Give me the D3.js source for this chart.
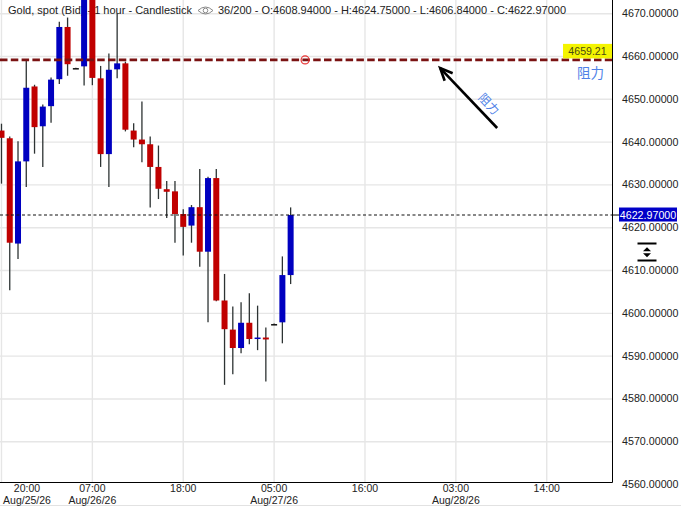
<!DOCTYPE html>
<html><head><meta charset="utf-8">
<script src="https://cdn.jsdelivr.net/npm/d3@7"></script>
<style>
html,body{margin:0;padding:0;background:#fff;}
svg{display:block;}
</style></head>
<body>
<svg id="chart" width="681" height="507"></svg>
<script>
// ---------- data ----------
const startTime = "2026-08-25T20:00:00Z"; // first candle, hourly bars
const opens  = [4642.7,4640.9,4616.3,4635.5,4653.0,4643.7,4648.4,4654.7,4666.9,4657.3,4657.7,4674.0,4654.9,4637.2,4657.0,4658.4,4642.7,4640.6,4639.5,4634.2,4629.0,4628.5,4623.2,4620.5,4624.8,4614.4,4631.6,4603.0,4596.2,4591.9,4597.8,4594.2,4594.35,4597.5,4597.9,4608.94];
const highs  = [4644.3,4641.3,4640.2,4659.2,4653.4,4648.8,4655.1,4668.1,4669.1,4657.4,4676.0,4675.5,4657.8,4660.7,4670.1,4658.8,4644.4,4649.5,4641.3,4639.2,4630.9,4630.9,4624.3,4625.3,4633.7,4631.9,4633.7,4609.2,4601.6,4602.6,4604.7,4601.8,4596.7,4597.6,4613.3,4624.75];
const lows   = [4630.3,4605.4,4612.7,4629.5,4637.3,4634.2,4644.5,4653.6,4655.5,4657.2,4653.2,4653.3,4634.2,4629.5,4654.9,4642.5,4638.8,4635.3,4624.7,4626.7,4622.3,4616.5,4613.5,4616.5,4610.9,4597.9,4602.8,4583.3,4585.8,4590.7,4592.8,4591.4,4584.1,4597.4,4593.0,4606.84];
const closes = [4641.0,4616.5,4635.5,4652.7,4643.5,4648.3,4654.6,4666.9,4658.2,4657.3,4674.5,4655.0,4637.2,4656.9,4658.4,4642.9,4640.6,4639.5,4634.2,4629.1,4628.4,4623.2,4620.2,4624.8,4614.4,4631.6,4603.0,4596.3,4591.9,4597.8,4594.0,4594.35,4593.9,4597.5,4608.94,4622.97];

const yTickValues = [4560,4570,4580,4590,4600,4610,4620,4630,4640,4650,4660,4670];
const xTickTimes = ["2026-08-25T20:00:00Z","2026-08-26T07:00:00Z","2026-08-26T18:00:00Z","2026-08-27T05:00:00Z","2026-08-27T16:00:00Z","2026-08-28T03:00:00Z","2026-08-28T14:00:00Z"];
const xTickDates = ["Aug/25/26","Aug/26/26","","Aug/27/26","","Aug/28/26",""];

const titleText = "Gold, spot (Bid) - 1 hour - Candlestick";
const infoText = "36/200 - O:4608.94000 - H:4624.75000 - L:4606.84000 - C:4622.97000";
const lastPrice = 4622.97;
const resistancePrice = 4659.21;
const resistanceLabel = "阻力";
// annotation anchors in data terms (hours after first candle, price)
const circleAt = {h: 36.75, p: 4659.21};
const arrowFrom = {h: 60.0, p: 4643.3};
const arrowTo = {h: 53.1, p: 4657.3};
const rotLabelAt = {h: 59.0, p: 4648.9};

// ---------- layout ----------
const plotR = 612, plotB = 482;
const svg = d3.select("#chart");
const HOUR = 3600e3;
const t0 = new Date(startTime).getTime();
const times = opens.map((_, i) => new Date(t0 + i * HOUR));
const x = d3.scaleUtc().domain([new Date(t0 - 0.18 * HOUR), new Date(t0 + 73.9 * HOUR)]).range([0, plotR]);
const y = d3.scaleLinear().domain([4560.6, 4673.2]).range([plotB, 0]);
const xh = h => x(new Date(t0 + h * HOUR));

const red = "#c00000", blue = "#0000c0", wickCol = "#2d3333";
const fontMain = "'Liberation Sans', Arial, Helvetica, sans-serif";

svg.append("defs").append("clipPath").attr("id", "plotClip")
  .append("rect").attr("x", 0).attr("y", 0).attr("width", plotR).attr("height", plotB);

// grid
const grid = svg.append("g").attr("clip-path", "url(#plotClip)");
grid.selectAll("line.h").data(yTickValues).join("line")
  .attr("x1", 0).attr("x2", plotR).attr("y1", d => y(d)).attr("y2", d => y(d))
  .attr("stroke", "#e6e6e6").attr("stroke-width", 1.4);
grid.selectAll("line.v").data(xTickTimes).join("line")
  .attr("x1", d => x(new Date(d))).attr("x2", d => x(new Date(d)))
  .attr("y1", 0).attr("y2", plotB)
  .attr("stroke", "#e6e6e6").attr("stroke-width", 1.4);

// header text (under candles)
svg.append("text").attr("x", 8).attr("y", 14).attr("font-family", fontMain).attr("font-size", 11)
  .attr("fill", "#222").text(titleText);
// eye icon
const eye = svg.append("g").attr("transform", "translate(205.5,10.5)");
eye.append("path").attr("d", "M-7.5,0 Q0,-7 7.5,0 Q0,7 -7.5,0 Z").attr("fill", "none").attr("stroke", "#8a8a8a").attr("stroke-width", 1);
eye.append("circle").attr("r", 2.3).attr("fill", "none").attr("stroke", "#8a8a8a").attr("stroke-width", 1);
svg.append("text").attr("x", 218).attr("y", 14).attr("font-family", fontMain).attr("font-size", 11)
  .attr("fill", "#222").text(infoText);

// candles
const candles = svg.append("g").attr("clip-path", "url(#plotClip)");
const idx = d3.range(opens.length);
const colorOf = i => closes[i] > opens[i] ? blue : (closes[i] < opens[i] ? red : "#111");
candles.selectAll("line.wick").data(idx).join("line")
  .attr("x1", i => x(times[i])).attr("x2", i => x(times[i]))
  .attr("y1", i => y(highs[i])).attr("y2", i => y(lows[i]))
  .attr("stroke", wickCol).attr("stroke-width", 1.3);
candles.selectAll("rect.body").data(idx).join("rect")
  .attr("x", i => x(times[i]) - 3).attr("width", 6)
  .attr("y", i => Math.min(y(opens[i]), y(closes[i])))
  .attr("height", i => Math.max(1.5, Math.abs(y(opens[i]) - y(closes[i]))))
  .attr("fill", colorOf);

// last price dotted line
svg.append("line").attr("x1", 0).attr("x2", plotR).attr("y1", y(lastPrice)).attr("y2", y(lastPrice))
  .attr("stroke", "#111").attr("stroke-width", 1.2).attr("stroke-dasharray", "3,2.5");

// resistance line
svg.append("line").attr("x1", 0).attr("x2", plotR).attr("y1", y(resistancePrice)).attr("y2", y(resistancePrice))
  .attr("stroke", "#7a1212").attr("stroke-width", 2.6).attr("stroke-dasharray", "7.5,3.3");
svg.append("circle").attr("cx", xh(circleAt.h)).attr("cy", y(circleAt.p)).attr("r", 4)
  .attr("fill", "none").attr("stroke", "#e83030").attr("stroke-width", 1.2);

// resistance price tag
const ry = y(resistancePrice);
svg.append("rect").attr("x", 563).attr("y", ry - 16).attr("width", 49).attr("height", 14.5).attr("fill", "#f4f400");
svg.append("text").attr("x", 587.5).attr("y", ry - 5.2).attr("text-anchor", "middle")
  .attr("font-family", fontMain).attr("font-size", 10.6).attr("fill", "#4b4b12").text(resistancePrice.toFixed(2));
svg.append("text").attr("x", 604).attr("y", ry + 18).attr("text-anchor", "end")
  .attr("font-family", "'Noto Sans CJK SC', sans-serif").attr("font-size", 13.5).attr("fill", "#4f82e8").text(resistanceLabel);

// arrow
const ax1 = xh(arrowFrom.h), ay1 = y(arrowFrom.p), ax2 = xh(arrowTo.h), ay2 = y(arrowTo.p);
const ang = Math.atan2(ay1 - ay2, ax1 - ax2);
const headLen = 13.5, spread = 0.42;
svg.append("line").attr("x1", ax1).attr("y1", ay1).attr("x2", ax2).attr("y2", ay2)
  .attr("stroke", "#000").attr("stroke-width", 2.6);
svg.append("path")
  .attr("d", `M${ax2 + headLen * Math.cos(ang + spread)},${ay2 + headLen * Math.sin(ang + spread)} L${ax2},${ay2} L${ax2 + headLen * Math.cos(ang - spread)},${ay2 + headLen * Math.sin(ang - spread)}`)
  .attr("fill", "none").attr("stroke", "#000").attr("stroke-width", 2.6).attr("stroke-linejoin", "miter");
svg.append("text").attr("transform", `translate(${xh(rotLabelAt.h)},${y(rotLabelAt.p)}) rotate(${ang * 180 / Math.PI})`)
  .attr("text-anchor", "middle").attr("dy", "0.35em")
  .attr("font-family", "'Noto Sans CJK SC', sans-serif").attr("font-size", 12).attr("fill", "#4f82e8").text(resistanceLabel);

// borders
svg.append("line").attr("x1", plotR + 0.5).attr("x2", plotR + 0.5).attr("y1", 0).attr("y2", plotB + 0.5).attr("stroke", "#000").attr("stroke-width", 1);
svg.append("line").attr("x1", 0).attr("x2", plotR + 0.5).attr("y1", plotB + 0.5).attr("y2", plotB + 0.5).attr("stroke", "#000").attr("stroke-width", 1);
svg.append("line").attr("x1", 0).attr("x2", 681).attr("y1", 505.5).attr("y2", 505.5).attr("stroke", "#e2e2e2").attr("stroke-width", 1);

// right axis
const yAxis = d3.axisRight(y).tickValues(yTickValues).tickSize(0).tickPadding(0).tickFormat(d => d.toFixed(5));
const gy = svg.append("g").attr("transform", "translate(622,-0.5)").call(yAxis);
gy.select(".domain").remove();
gy.selectAll("text").attr("font-family", fontMain).attr("font-size", 10.7).attr("fill", "#222").attr("x", 0);

// last price tag
const ly = y(lastPrice);
svg.append("line").attr("x1", plotR).attr("x2", 619).attr("y1", ly).attr("y2", ly).attr("stroke", "#000").attr("stroke-width", 1);
svg.append("rect").attr("x", 619).attr("y", ly - 7.5).attr("width", 58).attr("height", 14).attr("fill", "#0000c8");
svg.append("text").attr("x", 648).attr("y", ly).attr("dy", "0.36em").attr("text-anchor", "middle")
  .attr("font-family", fontMain).attr("font-size", 10.7).attr("fill", "#fff").text(lastPrice.toFixed(5));

// scroll icon
const sc = svg.append("g").attr("transform", "translate(647,252)");
sc.append("rect").attr("x", -9.5).attr("y", -9.5).attr("width", 19).attr("height", 2).attr("fill", "#000");
sc.append("rect").attr("x", -9.5).attr("y", 7.5).attr("width", 19).attr("height", 2).attr("fill", "#000");
sc.append("path").attr("d", "M-4,-0.8 L0,-4.8 L4,-0.8 Z M-4,1.2 L0,5.2 L4,1.2 Z").attr("fill", "#000");

// bottom axis labels (time + optional date)
const fmt = d3.utcFormat("%H:%M");
const xl = svg.append("g");
xTickTimes.forEach((t, k) => {
  let cx = x(new Date(t));
  if (cx < 27) cx = 27;
  xl.append("text").attr("x", cx).attr("y", 492.3).attr("text-anchor", "middle")
    .attr("font-family", fontMain).attr("font-size", 10.5).attr("fill", "#222").text(fmt(new Date(t)));
  if (xTickDates[k]) {
    xl.append("text").attr("x", cx).attr("y", 504.3).attr("text-anchor", "middle")
      .attr("font-family", fontMain).attr("font-size", 10.5).attr("fill", "#222").text(xTickDates[k]);
  }
});
</script>
</body></html>
